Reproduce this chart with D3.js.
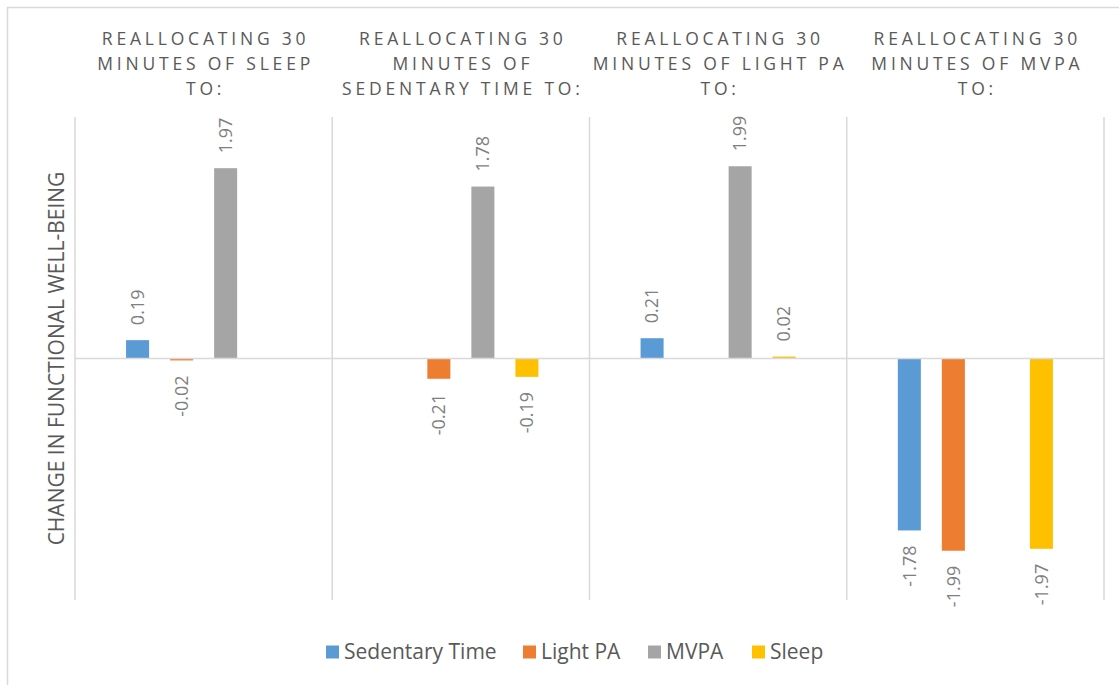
<!DOCTYPE html>
<html>
<head>
<meta charset="utf-8">
<script src="https://cdn.jsdelivr.net/npm/d3@7"></script>
<style>
  html, body { margin: 0; padding: 0; background: #fff; }
  svg { display: block; }
</style>
</head>
<body>
<svg id="chart" width="1119" height="685"></svg>
<script>
// Source activity being reallocated (one panel each), title lines per panel
const panels = ["Sleep", "Sedentary Time", "Light PA", "MVPA"];
const panelTitles = [
  ["REALLOCATING 30", "MINUTES OF SLEEP", "TO:"],
  ["REALLOCATING 30", "MINUTES OF", "SEDENTARY TIME TO:"],
  ["REALLOCATING 30", "MINUTES OF LIGHT PA", "TO:"],
  ["REALLOCATING 30", "MINUTES OF MVPA", "TO:"]
];

// Target activities (series)
const series = ["Sedentary Time", "Light PA", "MVPA", "Sleep"];
const seriesColors = ["#5B9BD5", "#ED7D31", "#A5A5A5", "#FFC000"];

// Change in functional well-being per panel; null where target equals source
const sedentaryValues = [0.19, null, 0.21, -1.78];
const lightPAValues   = [-0.02, -0.21, null, -1.99];
const mvpaValues      = [1.97, 1.78, 1.99, null];
const sleepValues     = [null, -0.19, 0.02, -1.97];

const yAxisTitle = "CHANGE IN FUNCTIONAL WELL-BEING";

const valuesBySeries = [sedentaryValues, lightPAValues, mvpaValues, sleepValues];

const svg = d3.select("#chart");
const font = "'Open Sans', 'DejaVu Sans', sans-serif";
const textColor = "#595959";
const gridColor = "#D9D9D9";

// Outer chart border (left and top edges visible)
svg.append("rect")
  .attr("x", 7.5).attr("y", 7.5)
  .attr("width", 1300).attr("height", 1000)
  .attr("fill", "none").attr("stroke", gridColor).attr("stroke-width", 1.5);

const plotLeft = 75, plotRight = 1104, plotTop = 117, plotBottom = 600;

const x0 = d3.scaleBand().domain(panels).range([plotLeft, plotRight]);
const x1 = d3.scaleBand().domain(series)
  .range([0, x0.bandwidth()])
  .paddingInner(0.477).paddingOuter(1.16);
const y = d3.scaleLinear().domain([-2.5, 2.5]).range([plotBottom, plotTop]);

// Panel separators
const bounds = panels.map(p => x0(p)).concat([plotRight]);
svg.append("g").selectAll("line").data(bounds).join("line")
  .attr("x1", d => d).attr("x2", d => d)
  .attr("y1", plotTop).attr("y2", plotBottom)
  .attr("stroke", gridColor).attr("stroke-width", 1.5);

// Bars
const barData = [];
panels.forEach((p, pi) => {
  series.forEach((s, si) => {
    const v = valuesBySeries[si][pi];
    if (v !== null) barData.push({ panel: p, series: s, si, value: v });
  });
});

const bars = svg.append("g");
bars.selectAll("rect").data(barData).join("rect")
  .attr("x", d => x0(d.panel) + x1(d.series))
  .attr("width", x1.bandwidth())
  .attr("y", d => y(Math.max(0, d.value)))
  .attr("height", d => Math.max(1, Math.abs(y(d.value) - y(0))))
  .attr("fill", d => seriesColors[d.si]);

// Zero line
svg.append("line")
  .attr("x1", plotLeft).attr("x2", plotRight)
  .attr("y1", y(0)).attr("y2", y(0))
  .attr("stroke", gridColor).attr("stroke-width", 1.5);

// Value labels, rotated
const labelGap = 15;
svg.append("g").selectAll("text").data(barData).join("text")
  .attr("transform", d => {
    const cx = x0(d.panel) + x1(d.series) + x1.bandwidth() / 2;
    const cy = d.value >= 0 ? y(d.value) - labelGap : y(d.value) + labelGap;
    return `translate(${cx},${cy}) rotate(-90)`;
  })
  .attr("text-anchor", d => d.value >= 0 ? "start" : "end")
  .attr("dy", "0.35em")
  .attr("font-family", font).attr("font-size", 18)
  .attr("fill", "#7F7F7F")
  .text(d => d.value.toFixed(2));

// Panel titles
const titles = svg.append("g");
panels.forEach((p, pi) => {
  const cx = x0(p) + x0.bandwidth() / 2;
  titles.append("text")
    .attr("x", cx + 2).attr("y", 45)
    .attr("text-anchor", "middle")
    .attr("font-family", font).attr("font-size", 17.5)
    .attr("letter-spacing", 3.8)
    .attr("fill", textColor)
    .selectAll("tspan").data(panelTitles[pi]).join("tspan")
      .attr("x", cx + 2)
      .attr("dy", (d, i) => i === 0 ? 0 : 25)
      .text(d => d);
});

// Y axis title
svg.append("text")
  .attr("transform", `translate(57,${(plotTop + plotBottom) / 2}) rotate(-90)`)
  .attr("text-anchor", "middle").attr("dy", "0.35em")
  .attr("font-family", font).attr("font-size", 21)
  .attr("fill", textColor)
  .text(yAxisTitle);

// Legend
const legendX = [326, 523, 648, 752];
const legend = svg.append("g");
series.forEach((s, i) => {
  const g = legend.append("g").attr("transform", `translate(${legendX[i]},652)`);
  g.append("rect").attr("x", 0).attr("y", -6.5).attr("width", 13).attr("height", 13)
    .attr("fill", seriesColors[i]);
  g.append("text").attr("x", 18).attr("y", 0).attr("dy", "0.35em")
    .attr("font-family", font).attr("font-size", 21)
    .attr("fill", textColor).text(s);
});
</script>
</body>
</html>
